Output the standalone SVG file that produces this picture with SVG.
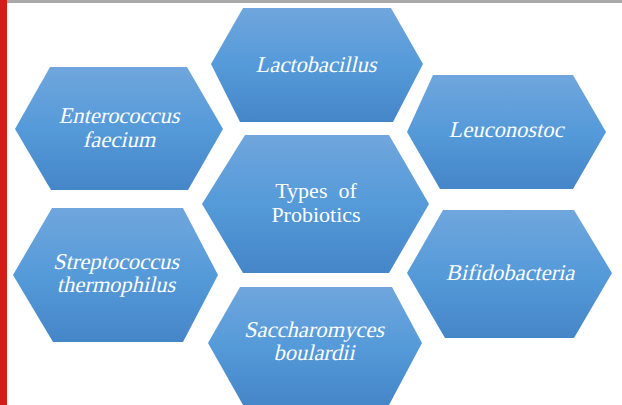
<svg xmlns="http://www.w3.org/2000/svg" width="622" height="405" viewBox="0 0 622 405">
<defs>
<linearGradient id="g" x1="0" y1="0" x2="0" y2="1">
<stop offset="0" stop-color="#70a6dd"/>
<stop offset="0.5" stop-color="#559ad9"/>
<stop offset="1" stop-color="#4586c8"/>
</linearGradient>
<style>
.hex{fill:url(#g);}
.t{font-family:"Liberation Serif","Times New Roman",serif;font-size:22.5px;fill:#ffffff;text-anchor:middle;}
.c{font-size:22px;}
</style>
</defs>
<rect x="0" y="0" width="622" height="405" fill="#ffffff"/>
<rect x="7" y="0" width="615" height="3" fill="#a9a9a9"/>
<rect x="0" y="0" width="7" height="405" fill="#d21f15"/>
<g id="connectors"></g>
<g id="lactobacillus">
<polygon class="hex" points="243,8 391,8 423,64 393,122 240,122 211,64"/>
<text class="t" transform="translate(316,72) skewX(-13)">Lactobacillus</text>
</g>
<g id="enterococcus">
<polygon class="hex" points="50,67 187,67 223,129 188,190 51,190 15,129"/>
<text class="t" transform="translate(119,123) skewX(-13)">Enterococcus</text>
<text class="t" transform="translate(119,147) skewX(-13)">faecium</text>
</g>
<g id="leuconostoc">
<polygon class="hex" points="433,75 573,75 606,132 573,189 440,189 407,132"/>
<text class="t" transform="translate(506,137) skewX(-13)">Leuconostoc</text>
</g>
<g id="center">
<polygon class="hex" points="245,135 389,135 429,204 389,273 243,273 202,204"/>
<text class="t c" x="316" y="198" xml:space="preserve">Types  of</text>
<text class="t c" x="316" y="222">Probiotics</text>
</g>
<g id="streptococcus">
<polygon class="hex" points="52,208 183,208 218,275 183,342 53,342 13,275"/>
<text class="t" transform="translate(116,269) skewX(-13)">Streptococcus</text>
<text class="t" transform="translate(116,292) skewX(-13)">thermophilus</text>
</g>
<g id="bifidobacteria">
<polygon class="hex" points="443,210 574,210 612,273 574,338 445,338 407,273"/>
<text class="t" transform="translate(510,280) skewX(-13)">Bifidobacteria</text>
</g>
<g id="saccharomyces">
<polygon class="hex" points="240,287 392,287 422,343 389,405 243,405 208,343"/>
<text class="t" transform="translate(314,337) skewX(-13)">Saccharomyces</text>
<text class="t" transform="translate(314,360) skewX(-13)">boulardii</text>
</g>
</svg>
